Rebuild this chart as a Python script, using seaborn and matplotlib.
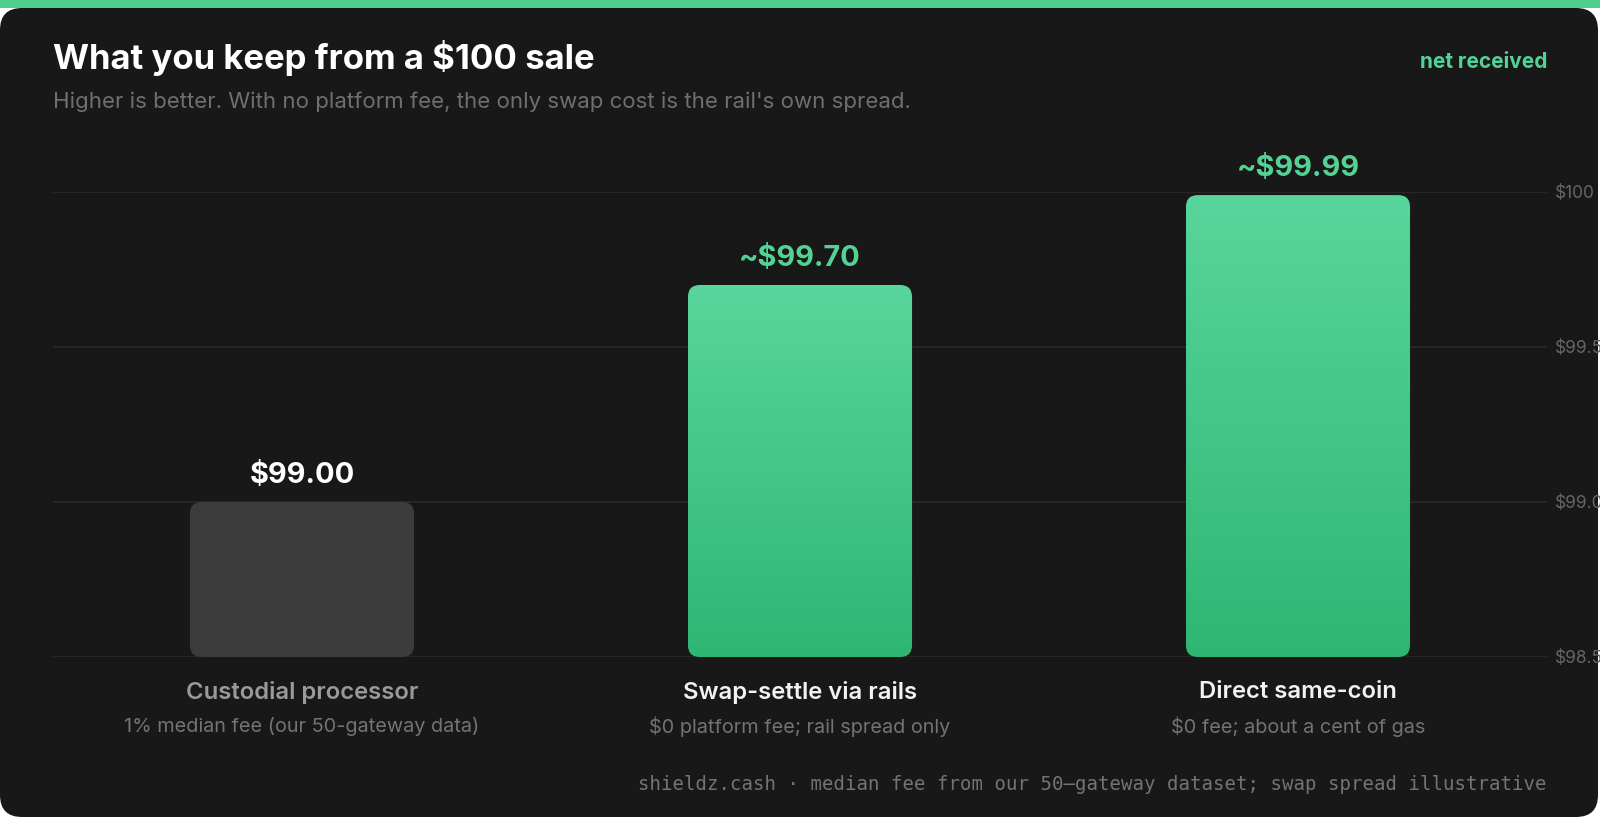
import numpy as np
import pandas as pd
import matplotlib
matplotlib.use('Agg')
import matplotlib.pyplot as plt
import seaborn as sns
from matplotlib.patches import FancyBboxPatch, Rectangle
from matplotlib.colors import LinearSegmentedColormap
from matplotlib.transforms import IdentityTransform

# %% dados
categorias = ['Custodial processor', 'Swap-settle via rails', 'Direct same-coin']
subtitulos = ['1% median fee (our 50-gateway data)',
              '$0 platform fee; rail spread only',
              '$0 fee; about a cent of gas']
valores = [99.00, 99.70, 99.99]
rotulos = ['$99.00', '~$99.70', '~$99.99']
ticks = [98.5, 99.0, 99.5, 100.0]
ticks_txt = ['$98.5', '$99.0', '$99.5', '$100']

df = pd.DataFrame({'metodo': categorias, 'liquido': valores})

# %% estilo
sns.set_theme(style='dark')
plt.rcParams['font.family'] = ['Inter', 'DejaVu Sans']

W, H = 1600, 817
FUNDO = '#181818'
VERDE = '#52d394'
CINZA_BARRA = '#3c3c3c'

fig = plt.figure(figsize=(W / 100, H / 100), dpi=100)
fig.patch.set_facecolor('white')

# cartao escuro com cantos arredondados + faixa verde no topo
cartao = FancyBboxPatch((0, 0), W - 2, H - 8, boxstyle='round,pad=0,rounding_size=22',
                        transform=IdentityTransform(), facecolor=FUNDO, edgecolor='none',
                        zorder=-10)
faixa = Rectangle((0, H - 8), W, 8, transform=IdentityTransform(),
                  facecolor='#4fcf8c', edgecolor='none', zorder=-9)
fig.patches.extend([cartao, faixa])

ax = fig.add_axes([53 / W, 160 / H, 1494 / W, 465 / H])
ax.set_facecolor('none')

sns.barplot(data=df, x='metodo', y='liquido', ax=ax, width=0.45, color=VERDE)
ax.set_ylim(98.5, 100.0)
xlim = ax.get_xlim()

cmap = LinearSegmentedColormap.from_list('verde', ['#2fb673', '#58d69b'])
grad = np.linspace(0, 1, 256).reshape(-1, 1)

barras = list(ax.patches)
for i, (bar, val) in enumerate(zip(barras, df['liquido'])):
    bar.set_visible(False)
    x0, w = bar.get_x(), bar.get_width()
    base = ticks[0]
    rx = 12 / 498
    ry = 12 * 1.5 / 465
    forma = FancyBboxPatch((x0, base), w, val - base,
                           boxstyle=f'round,pad=0,rounding_size={rx}',
                           mutation_aspect=ry / rx,
                           facecolor=CINZA_BARRA if i == 0 else 'none',
                           edgecolor='none', zorder=3)
    ax.add_patch(forma)
    if i > 0:
        img = ax.imshow(grad, extent=[x0, x0 + w, base, val], origin='lower',
                        aspect='auto', cmap=cmap, zorder=3)
        img.set_clip_path(forma)
    ax.annotate(rotulos[i], xy=(x0 + w / 2, val), xytext=(0, 19),
                textcoords='offset pixels', ha='center', va='baseline',
                fontsize=20.8, fontweight='bold',
                color='white' if i == 0 else VERDE)
    ax.annotate(categorias[i], xy=(x0 + w / 2, 0), xycoords=('data', 'axes fraction'),
                xytext=(0, -35), textcoords='offset pixels', ha='center', va='center',
                fontsize=17.2, fontweight='semibold',
                color='#9a9a9a' if i == 0 else '#f2f2f2')
    ax.annotate(subtitulos[i], xy=(x0 + w / 2, 0), xycoords=('data', 'axes fraction'),
                xytext=(0, -70), textcoords='offset pixels', ha='center', va='center',
                fontsize=14.3, color='#737373')

ax.set_xlim(xlim)
ax.set_ylim(98.5, 100.0)

# eixo y a direita
ax.yaxis.tick_right()
ax.set_yticks(ticks)
ax.set_yticklabels(ticks_txt)
ax.tick_params(axis='y', length=0, pad=5.5, labelsize=12.5, labelcolor='#666666')
ax.tick_params(axis='x', length=0, labelbottom=False)
ax.set_xlabel('')
ax.set_ylabel('')
ax.grid(False)
for t in ticks:
    ax.axhline(t, color='#2a2a2a', lw=1.2, zorder=1)
sns.despine(ax=ax, left=True, bottom=True)

# titulos
fig.text(53 / W, 1 - 69 / H, 'What you keep from a $100 sale', fontsize=25,
         fontweight='bold', color='white', va='baseline', ha='left')
fig.text(53 / W, 1 - 102 / H, "Higher is better. With no platform fee, the only swap cost is the rail's own spread.",
         fontsize=16, color='#6f6f6f', va='center', ha='left')
fig.text(1547 / W, 1 - 62 / H, 'net received', fontsize=15, fontweight='bold',
         color=VERDE, va='center', ha='right')
fig.text(1547 / W, 1 - 784 / H,
         'shieldz.cash \u00b7 median fee from our 50\u2013gateway dataset; swap spread illustrative',
         fontsize=13.7, color='#737373', va='center', ha='right', family='DejaVu Sans Mono')

fig.savefig('out.png', dpi=100, facecolor=fig.get_facecolor())
